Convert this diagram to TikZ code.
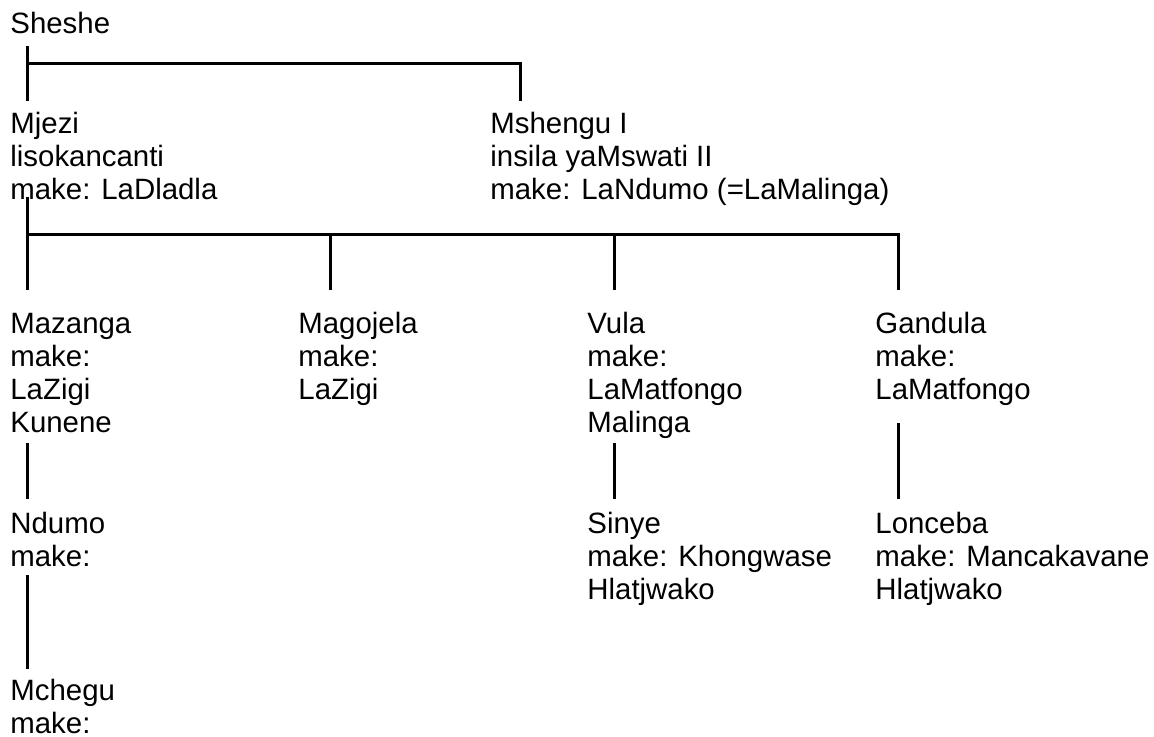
\documentclass[tikz,border=0pt]{standalone}
\usepackage{fontspec}
\setmainfont{Liberation Sans}
\newcommand\entry[1]{\begin{tabular}[t]{@{}l@{}}#1\end{tabular}}
\begin{document}
\begin{tikzpicture}[x=.5pt,y=-.5pt,
  person/.style={anchor=base west,inner sep=0pt,font=\fontsize{14.7}{16.65}\selectfont},
  bar/.style={line width=1.5pt}]
\useasboundingbox (0,0) rectangle (1154,736);
% generations
\node[person] (sheshe) at (10,33) {Sheshe};
\node[person] (mjezi) at (10,133) {\entry{Mjezi\\lisokancanti\\make: LaDladla}};
\node[person] (mshengu) at (490,133) {\entry{Mshengu I\\insila yaMswati II\\make: LaNdumo (=LaMalinga)}};
\node[person] (mazanga) at (10,333) {\entry{Mazanga\\make:\\LaZigi\\Kunene}};
\node[person] (magojela) at (298,333) {\entry{Magojela\\make:\\LaZigi}};
\node[person] (vula) at (587,333) {\entry{Vula\\make:\\LaMatfongo\\Malinga}};
\node[person] (gandula) at (875,333) {\entry{Gandula\\make:\\LaMatfongo}};
\node[person] (ndumo) at (10,533) {\entry{Ndumo\\make:}};
\node[person] (sinye) at (587,533) {\entry{Sinye\\make: Khongwase\\Hlatjwako}};
\node[person] (lonceba) at (875,533) {\entry{Lonceba\\make: Mancakavane\\Hlatjwako}};
\node[person] (mchegu) at (10,700) {\entry{Mchegu\\make:}};
% bars
\coordinate (a1) at (27,46); \coordinate (a2) at (27,101); \coordinate (a3) at (520,101);
\draw[bar] (a1)--(a2); \draw[bar] (a1 |- 0,63) -| (a3);
\coordinate (b1) at (27,197); \coordinate (b2) at (27,290); \coordinate (b3) at (330,290);
\coordinate (b4) at (614,290); \coordinate (b5) at (898,290);
\draw[bar] (b1)--(b2); \draw[bar] (b1 |- 0,234) -| (b5);
\foreach \c in {b3,b4} \draw[bar] (\c |- 0,234)--(\c);
\coordinate (c1) at (27,443); \coordinate (c2) at (27,499);
\coordinate (c3) at (614,443); \coordinate (c4) at (614,499);
\coordinate (c5) at (898,423); \coordinate (c6) at (898,499);
\coordinate (d1) at (27,575); \coordinate (d2) at (27,669);
\draw[bar] (c1)--(c2) (c3)--(c4) (c5)--(c6) (d1)--(d2);
\end{tikzpicture}
\end{document}
